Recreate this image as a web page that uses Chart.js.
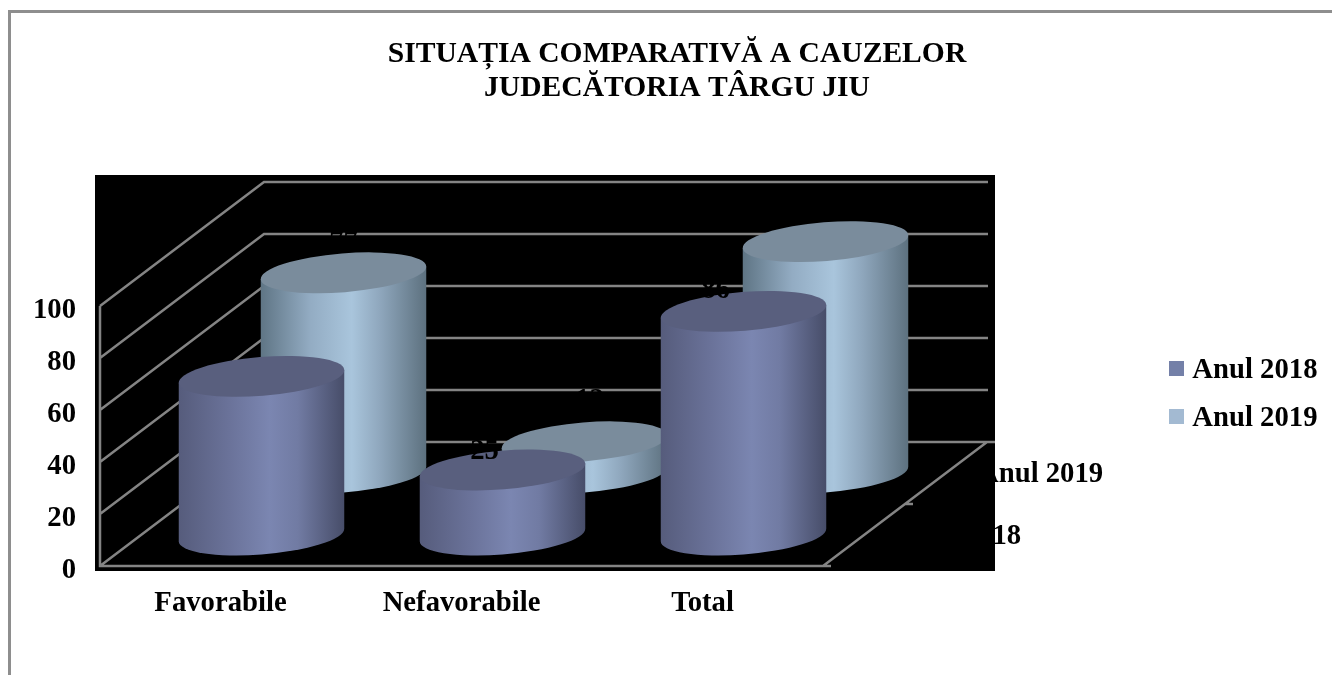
<!DOCTYPE html>
<html>
<head>
<meta charset="utf-8">
<style>html,body{margin:0;padding:0;background:#fff}canvas{display:block}</style>
<script src="https://cdn.jsdelivr.net/npm/chart.js@4"></script>
</head>
<body>
<canvas id="c" width="1332" height="675"></canvas>
<script>
const categories = ['Favorabile', 'Nefavorabile', 'Total'];
const seriesNames = ['Anul 2018', 'Anul 2019'];
const values2018 = [61, 25, 86];
const values2019 = [77, 12, 89];
const titleLines = ['SITUAȚIA COMPARATIVĂ A CAUZELOR', 'JUDECĂTORIA TÂRGU JIU'];
const yTicks = [0, 20, 40, 60, 80, 100];

const FONT = "'Liberation Serif'";
const SIZE = 28.7;
const GRID = '#848484';
const DEPTH = {x: 164, y: -124};
const ELL = {a: 83, b: 19.4, rot: -4.6 * Math.PI / 180};
const LOOK = [
  {shade: ['#565c7c', '#6a7299', '#7b86b1', '#717ba3', '#474d69'], top: '#595f7e', front: .25},
  {shade: ['#5f7585', '#93acc3', '#a9c5dc', '#8fa7bd', '#5d717f'], top: '#7a8c9c', front: .75}
];
const LABEL_SHIFT = [
  [[-36, -32], [-18, -18], [-28, -21]],
  [[0, -30], [5, -41], [0, -30]]
];

const cylinders = {
  id: 'cylinders',
  beforeLayout(chart) {
    const lg = chart.legend, fit = lg.fit;
    if (!lg._wide) {
      lg._wide = true;
      lg.fit = function () { fit.call(this); this.width = 509; };
    }
  },
  afterLayout(chart) {
    const lg = chart.legend, p = lg.options.labels.padding;
    lg.left = 1169 - p; lg.right = 1332; lg.top = 370.5 - SIZE / 2 - p; lg.bottom = 675;
    chart.titleBlock.left += 11; chart.titleBlock.right += 11;
    const ys = chart.scales.y, items = ys._computeLabelItems;
    if (items && !ys._lowered) {
      ys._lowered = true;
      ys._computeLabelItems = function (ca) {
        const out = items.call(this, ca);
        out.forEach(it => { const t = it.options.translation; it.options.translation = [t[0], t[1] + 5]; });
        return out;
      };
    }
  },
  beforeDraw(chart) {
    const ctx = chart.ctx, y = chart.scales.y, area = chart.chartArea;
    ctx.save();
    ctx.fillStyle = '#fff'; ctx.fillRect(0, 0, 1332, 675);
    ctx.strokeStyle = '#8e8e8e'; ctx.lineWidth = 3;
    ctx.beginPath(); ctx.moveTo(9.5, 675); ctx.lineTo(9.5, 11.5); ctx.lineTo(1332, 11.5); ctx.stroke();

    // depth-axis labels sit beneath the black panel
    ctx.fillStyle = '#000'; ctx.font = 'bold ' + SIZE + 'px ' + FONT;
    ctx.textBaseline = 'middle'; ctx.textAlign = 'left';
    seriesNames.forEach((n, i) => {
      const f = LOOK[i].front;
      ctx.fillText(n, area.right + DEPTH.x * f + 32, area.bottom + DEPTH.y * f + 2);
    });

    ctx.fillStyle = '#000';
    ctx.fillRect(95, 175, 900, 396);

    ctx.strokeStyle = GRID; ctx.lineWidth = 2.5;
    const bx = area.left + DEPTH.x, by = DEPTH.y;
    ctx.beginPath();
    yTicks.forEach(v => {
      const py = y.getPixelForValue(v);
      ctx.moveTo(area.left, py); ctx.lineTo(bx, py + by);
      ctx.lineTo(area.right + DEPTH.x + (v === 0 ? 8 : 1), py + by);
    });
    const y0 = y.getPixelForValue(0), y1 = y.getPixelForValue(100);
    ctx.moveTo(area.left, y1); ctx.lineTo(area.left, y0);
    ctx.lineTo(area.right + 8, y0);
    ctx.moveTo(area.right, y0); ctx.lineTo(area.right + DEPTH.x, y0 + by);
    ctx.moveTo(area.right + DEPTH.x / 2, y0 + by / 2); ctx.lineTo(area.right + DEPTH.x / 2 + 8, y0 + by / 2);
    ctx.stroke();
    ctx.restore();
  },
  beforeDatasetDraw(chart, args) {
    const ctx = chart.ctx, i = args.index, look = LOOK[i];
    const xs = chart.scales.x, ys = chart.scales.y;
    const data = chart.data.datasets[i].data;
    const {a, b, rot} = ELL;
    const t0 = Math.atan2(-b * Math.sin(rot), a * Math.cos(rot));
    const ex = a * Math.cos(t0) * Math.cos(rot) - b * Math.sin(t0) * Math.sin(rot);
    const ey = a * Math.cos(t0) * Math.sin(rot) + b * Math.sin(t0) * Math.cos(rot);
    data.forEach((v, k) => {
      const cx = xs.getPixelForValue(k) + DEPTH.x * look.front;
      const base = ys.getPixelForValue(0) + DEPTH.y * look.front;
      const top = ys.getPixelForValue(v) + DEPTH.y * look.front;
      const g = ctx.createLinearGradient(cx - ex, 0, cx + ex, 0);
      const stops = [0, .3, .55, .72, 1];
      look.shade.forEach((c, s) => g.addColorStop(stops[s], c));
      ctx.save();
      ctx.fillStyle = g;
      ctx.beginPath();
      ctx.ellipse(cx, base, a, b, rot, t0, t0 + Math.PI);
      ctx.lineTo(cx - ex, top - ey);
      ctx.lineTo(cx + ex, top + ey);
      ctx.closePath();
      ctx.fill();
      ctx.fillStyle = look.top;
      ctx.beginPath();
      ctx.ellipse(cx, top, a, b, rot, 0, Math.PI * 2);
      ctx.fill();
      ctx.restore();
    });
    return false;
  },
  afterDatasetsDraw(chart) {
    const ctx = chart.ctx, xs = chart.scales.x, ys = chart.scales.y;
    ctx.save();
    ctx.fillStyle = '#000'; ctx.font = 'bold ' + SIZE + 'px ' + FONT;
    ctx.textAlign = 'center'; ctx.textBaseline = 'middle';
    chart.data.datasets.forEach((ds, i) => {
      const f = LOOK[i].front;
      ds.data.forEach((v, k) => {
        const s = LABEL_SHIFT[i][k];
        ctx.fillText(String(v),
          xs.getPixelForValue(k) + DEPTH.x * f + s[0],
          ys.getPixelForValue(v) + DEPTH.y * f + s[1]);
      });
    });
    ctx.restore();
  },
  afterDraw(chart) {
    // full-size legend swatches over the narrower native boxes
    const lg = chart.legend, ctx = chart.ctx, p = lg.options.labels.padding;
    ctx.save();
    chart.data.datasets.forEach((ds, i) => {
      ctx.fillStyle = ds.backgroundColor;
      ctx.fillRect(lg.left + p, lg.top + p + SIZE / 2 - 9.5 + i * (SIZE + p), 15, 15);
    });
    ctx.restore();
  }
};

new Chart(document.getElementById('c'), {
  type: 'bar',
  data: {
    labels: categories,
    datasets: [
      {label: seriesNames[0], data: values2018, backgroundColor: '#7480a8', borderWidth: 0},
      {label: seriesNames[1], data: values2019, backgroundColor: '#a3bad2', borderWidth: 0}
    ]
  },
  options: {
    responsive: false,
    animation: false,
    layout: {padding: 0},
    scales: {
      x: {
        grid: {display: false, drawTicks: false},
        border: {display: false},
        ticks: {color: '#000', padding: 20, font: {family: FONT, size: SIZE, weight: 'bold'}, maxRotation: 0, autoSkip: false},
        afterFit(s) { s.height = 109; }
      },
      y: {
        min: 0, max: 100,
        grid: {display: false, drawTicks: false},
        border: {display: false},
        ticks: {color: '#000', stepSize: 20, padding: 24, font: {family: FONT, size: SIZE, weight: 'bold'}},
        afterFit(s) { s.width = 100; }
      }
    },
    plugins: {
      tooltip: {enabled: false},
      title: {
        display: true,
        text: titleLines,
        color: '#000',
        font: {family: FONT, size: 29.6, weight: 'bold', lineHeight: 34 / 29.6},
        padding: {top: 37, bottom: 201}
      },
      legend: {
        position: 'right',
        align: 'start',
        labels: {
          color: '#000',
          boxWidth: 9, boxHeight: 9,
          padding: 19.3,
          font: {family: FONT, size: SIZE, weight: 'bold'}
        }
      }
    }
  },
  plugins: [cylinders]
});
</script>
</body>
</html>
